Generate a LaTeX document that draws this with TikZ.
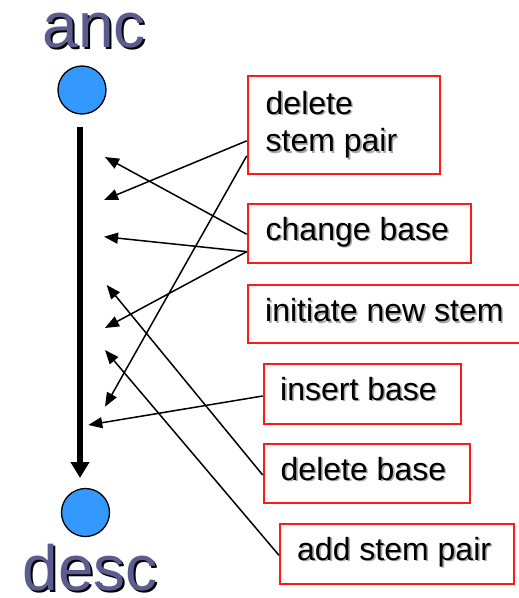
\documentclass[tikz,border=0pt]{standalone}
\usepackage{fontspec}
\setmainfont{Liberation Sans}
\usetikzlibrary{arrows.meta,calc}
\definecolor{boxred}{RGB}{255,26,26}
\definecolor{nodeblue}{RGB}{51,153,255}
\definecolor{slate}{RGB}{92,92,142}
\definecolor{shadowgray}{RGB}{170,170,170}
\tikzset{
  opbox/.style={draw=boxred, line width=2pt, rectangle, anchor=north west, inner sep=0pt},
  optext/.style={anchor=base west, inner sep=0pt, font=\fontsize{32}{37.7}\selectfont, align=left},
  vertex/.style={circle, draw=black, line width=1.3pt, fill=nodeblue, minimum size=48pt, inner sep=0pt},
  bigword/.style={anchor=base west, inner sep=0pt, font=\fontsize{64}{64}\selectfont},
  edit/.style={line width=1.5pt, -{Triangle[length=14pt,width=11pt]}},
  lineage/.style={line width=6pt, -{Triangle[length=16pt,width=18pt]}}
}
% text with a soft drop shadow
\newcommand{\shadowtext}[4]{% name, x, y, text
  \node[optext, text=shadowgray] at (#2+1.6,#3+1.6) {#4};
  \node[optext] (#1) at (#2,#3) {#4};
}
\begin{document}
\begin{tikzpicture}[x=1pt,y=-1pt]
\useasboundingbox (0,0) rectangle (519,598);

% ancestor / descendant
\node[bigword, text=black] at (44.5,49.5) {anc};
\node[bigword, text=slate] (anclbl) at (42.5,47.5) {anc};
\node[vertex] (anc) at (82,90) {};
\node[vertex] (desc) at (85.5,512.5) {};
\node[bigword, text=black] at (24.5,592) {desc};
\node[bigword, text=slate] (desclbl) at (22.5,590) {desc};

\coordinate (top) at (80,127);
\coordinate (bot) at (80,478);
\draw[lineage] (top) -- (bot);

% operation boxes
\node[opbox, minimum width=192.3pt, minimum height=97.7pt] (dsp) at (246.7,75) {};
\node[opbox, minimum width=223.3pt, minimum height=58.7pt] (cb) at (246.7,203.3) {};
\node[opbox, minimum width=275pt, minimum height=58pt] (ins) at (246.7,284) {};
\node[opbox, minimum width=197.3pt, minimum height=59.4pt] (ib) at (262.7,363.3) {};
\node[opbox, minimum width=206pt, minimum height=59pt] (db) at (262.7,443.3) {};
\node[opbox, minimum width=234.3pt, minimum height=59.4pt] (asp) at (279,523.3) {};

\shadowtext{dsptxt}{265.5}{151.7}{delete\\stem pair}
\shadowtext{cbtxt}{265.5}{240}{change base}
\shadowtext{instxt}{265}{321.7}{initiate new stem}
\shadowtext{ibtxt}{280}{400}{insert base}
\shadowtext{dbtxt}{280.5}{480}{delete base}
\shadowtext{asptxt}{297}{560}{add stem pair}

% where each edit lands on the lineage
\coordinate (t1) at (105,157);
\coordinate (t2) at (104,200);
\coordinate (t3) at (104,236.7);
\coordinate (t4) at (106.7,285);
\coordinate (t5) at (105,328);
\coordinate (t6) at (105,350);
\coordinate (t7) at (105,406.7);
\coordinate (t8) at (88.3,425);

% departure points on the boxes
\coordinate (dspA) at ($(dsp.west)+(0,16)$);
\coordinate (dspB) at ($(dsp.west)+(0,31)$);
\coordinate (cbA) at ($(cb.west)+(0,0.6)$);
\coordinate (cbB) at ($(cb.west)+(0,18)$);
\coordinate (ibA) at ($(ib.west)+(0,2)$);
\coordinate (dbA) at ($(db.west)+(0,1.2)$);
\coordinate (aspA) at ($(asp.west)+(0,1.3)$);

\draw[edit] (cbA) -- (t1);
\draw[edit] (dspA) -- (t2);
\draw[edit] (cbB) -- (t3);
\draw[edit] (dbA) -- (t4);
\draw[edit] (cbB) -- (t5);
\draw[edit] (aspA) -- (t6);
\draw[edit] (dspB) -- (t7);
\draw[edit] (ibA) -- (t8);
\end{tikzpicture}
\end{document}
